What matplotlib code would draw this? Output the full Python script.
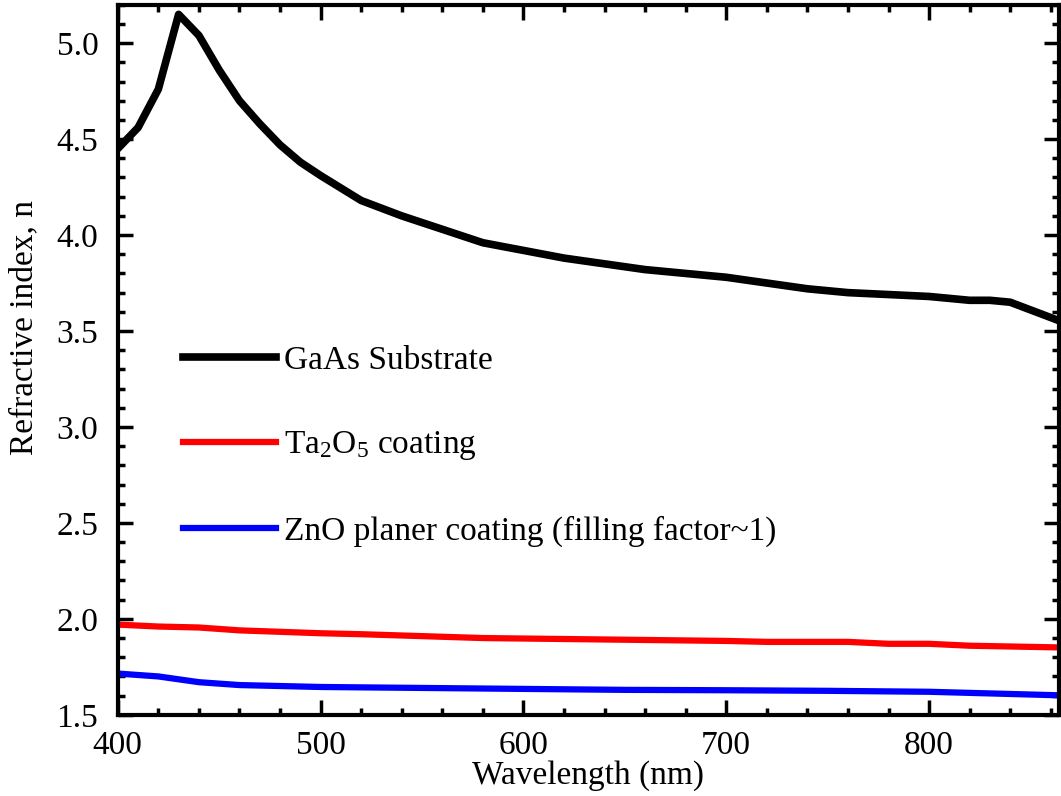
import matplotlib
matplotlib.use("Agg")
import matplotlib.pyplot as plt
from matplotlib.ticker import MultipleLocator, FormatStrFormatter

plt.rcParams["font.family"] = ["Liberation Serif", "DejaVu Serif"]
plt.rcParams["mathtext.fontset"] = "custom"
plt.rcParams["mathtext.rm"] = "Liberation Serif"
plt.rcParams["mathtext.it"] = "Liberation Serif:italic"

# GaAs substrate
gaas_wl = [400, 410, 420, 430, 440, 450, 460, 470, 480, 490, 500, 520, 540,
           560, 580, 600, 620, 640, 660, 680, 700, 720, 740, 760, 780, 800,
           820, 830, 840, 860, 870]
gaas_n = [4.45, 4.56, 4.76, 5.15, 5.04, 4.86, 4.70, 4.58, 4.47, 4.38, 4.31,
          4.18, 4.10, 4.03, 3.96, 3.92, 3.88, 3.85, 3.82, 3.80, 3.78, 3.75,
          3.72, 3.70, 3.69, 3.68, 3.66, 3.66, 3.65, 3.57, 3.53]

# Ta2O5 coating
ta_wl = [400, 420, 440, 460, 500, 520, 550, 580, 620, 660, 700, 720, 760,
         780, 800, 820, 870]
ta_n = [1.97, 1.96, 1.955, 1.94, 1.925, 1.92, 1.91, 1.90, 1.895, 1.89, 1.885,
        1.88, 1.88, 1.87, 1.87, 1.86, 1.85]

# ZnO planar coating
zn_wl = [400, 420, 440, 460, 480, 500, 550, 600, 650, 700, 750, 800, 870]
zn_n = [1.715, 1.70, 1.67, 1.655, 1.65, 1.645, 1.64, 1.635, 1.63, 1.628,
        1.625, 1.62, 1.60]

fig = plt.figure(figsize=(10.61, 7.96), dpi=100)
ax = fig.add_axes([0.111, 0.102, 0.887, 0.892])

ax.plot(gaas_wl, gaas_n, color="black", lw=5.5, label="GaAs Substrate")
ax.plot(ta_wl, ta_n, color="#ff0000", lw=4.5, label=r"Ta$_2$O$_5$ coating")
ax.plot(zn_wl, zn_n, color="#0000ff", lw=4.5,
        label="ZnO planer coating (filling factor~1)")

ax.set_xlim(400, 864)
ax.set_ylim(1.5, 5.2)
ax.xaxis.set_major_locator(MultipleLocator(100))
ax.xaxis.set_minor_locator(MultipleLocator(20))
ax.yaxis.set_major_locator(MultipleLocator(0.5))
ax.yaxis.set_minor_locator(MultipleLocator(0.1))
ax.yaxis.set_major_formatter(FormatStrFormatter("%.1f"))

for s in ax.spines.values():
    s.set_linewidth(3)
ax.tick_params(which="both", direction="in", top=True, right=True,
               labelsize=24)
ax.tick_params(axis="x", which="major", pad=11)
ax.tick_params(axis="y", which="major", pad=14)
ax.tick_params(which="major", length=11, width=2.5)
ax.tick_params(which="minor", length=5, width=2.5)

ax.set_xlabel("Wavelength (nm)", fontsize=24, labelpad=0)
ax.set_ylabel("Refractive index, n", fontsize=24)
ax.yaxis.set_label_coords(-0.083, 0.545)

ax.legend(loc="upper left", bbox_to_anchor=(0.069, 0.52), frameon=False,
          fontsize=24, handlelength=2.8, handletextpad=0.25,
          labelspacing=1.6, borderpad=0, borderaxespad=0)

fig.savefig("out.png", dpi=100)
